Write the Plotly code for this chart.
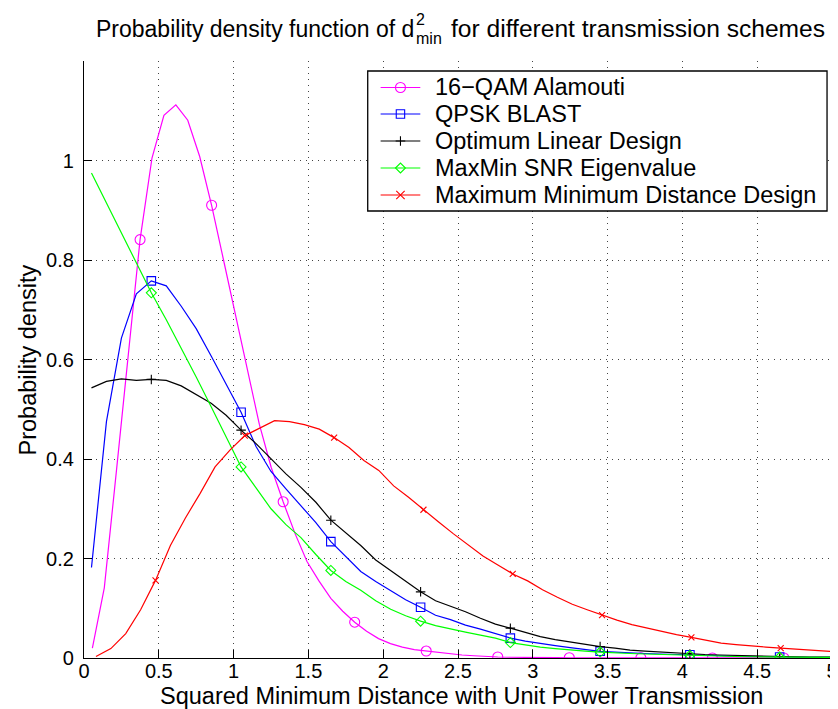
import numpy as np
import plotly.graph_objects as go

# ---------------- data ----------------
names = ["16\u2212QAM Alamouti", "QPSK BLAST", "Optimum Linear Design",
         "MaxMin SNR Eigenvalue", "Maximum Minimum Distance Design"]

# sample grids (histogram bin centres)
x_qam = np.round(0.056 + 0.0797 * np.arange(63), 4)
x_grid = np.round(0.05 + 0.1 * np.arange(51), 4)
x_mmd = np.round(0.08 + 0.0995 * np.arange(51), 4)

y_qam = [0.020, 0.141, 0.372, 0.610, 0.841, 1.005, 1.091, 1.112, 1.081, 1.008,
         0.910, 0.800, 0.690, 0.578, 0.470, 0.383, 0.314, 0.250, 0.194, 0.155,
         0.120, 0.094, 0.072, 0.054, 0.039, 0.029, 0.022, 0.017, 0.014, 0.011,
         0.008, 0.006, 0.0045, 0.003, 0.002, 0.0015, 0.001, 0.001, 0.0008, 0.0006,
         0.0005, 0.0004, 0.0003, 0.0003, 0.0002, 0.0002, 0.0002, 0.0001, 0.0001, 0.0001,
         0.0001, 0.0001, 0.0001, 0.0, 0.0, 0.0, 0.0, 0.0, 0.0, 0.0,
         0.0, 0.0, 0.0]

y_blast = [0.182, 0.475, 0.643, 0.732, 0.758, 0.748, 0.707, 0.662, 0.607, 0.551,
           0.494, 0.425, 0.375, 0.340, 0.305, 0.272, 0.234, 0.203, 0.174, 0.154,
           0.136, 0.117, 0.102, 0.086, 0.077, 0.066, 0.058, 0.049, 0.040, 0.034,
           0.029, 0.025, 0.021, 0.017, 0.0135, 0.012, 0.010, 0.009, 0.008, 0.007,
           0.0065, 0.006, 0.005, 0.004, 0.003, 0.003, 0.002, 0.002, 0.0015, 0.001,
           0.001]

y_old = [0.543, 0.556, 0.561, 0.558, 0.560, 0.558, 0.547, 0.529, 0.512, 0.488,
         0.458, 0.431, 0.400, 0.370, 0.343, 0.313, 0.277, 0.252, 0.226, 0.197,
         0.176, 0.155, 0.133, 0.115, 0.104, 0.093, 0.080, 0.068, 0.060, 0.051,
         0.043, 0.037, 0.032, 0.027, 0.023, 0.020, 0.016, 0.014, 0.012, 0.010,
         0.008, 0.007, 0.006, 0.005, 0.004, 0.0035, 0.003, 0.0025, 0.002, 0.002,
         0.0015]

y_snr = [0.975, 0.915, 0.855, 0.794, 0.734, 0.680, 0.624, 0.565, 0.505, 0.445,
         0.384, 0.342, 0.300, 0.268, 0.242, 0.208, 0.176, 0.154, 0.136, 0.115,
         0.098, 0.085, 0.074, 0.065, 0.058, 0.052, 0.046, 0.040, 0.031, 0.026,
         0.022, 0.019, 0.016, 0.014, 0.012, 0.010, 0.009, 0.008, 0.007, 0.006,
         0.005, 0.004, 0.0035, 0.003, 0.0025, 0.002, 0.0015, 0.001, 0.001, 0.001,
         0.001]

y_mmd = [0.003, 0.019, 0.049, 0.097, 0.156, 0.226, 0.281, 0.331, 0.384, 0.418,
         0.447, 0.462, 0.477, 0.475, 0.469, 0.460, 0.443, 0.423, 0.397, 0.377,
         0.346, 0.323, 0.298, 0.274, 0.250, 0.228, 0.205, 0.187, 0.169, 0.155,
         0.137, 0.122, 0.108, 0.097, 0.086, 0.076, 0.067, 0.060, 0.053, 0.047,
         0.0415, 0.035, 0.030, 0.027, 0.024, 0.022, 0.020, 0.018, 0.016, 0.014,
         0.012]

x_ticks = [0, 0.5, 1, 1.5, 2, 2.5, 3, 3.5, 4, 4.5, 5]
x_ticklabels = ["0", "0.5", "1", "1.5", "2", "2.5", "3", "3.5", "4", "4.5", "5"]
y_ticks = [0, 0.2, 0.4, 0.6, 0.8, 1.0]
y_ticklabels = ["0", "0.2", "0.4", "0.6", "0.8", "1"]

series_x = [x_qam, x_grid, x_grid, x_grid, x_mmd]
series_y = [y_qam, y_blast, y_old, y_snr, y_mmd]

# ---------------- styles ----------------
colors = ["#ff00ff", "#0000ff", "#000000", "#00ff00", "#ff0000"]
symbols = ["circle-open", "square-open", "cross-thin-open", "diamond-open", "x-thin-open"]
msizes = [10, 8.5, 6.8, 7.7, 6.0]
MARK_START, MARK_STEP = 4, 6
FONT = "Liberation Sans, Arial, Helvetica, sans-serif"

W, H = 838, 709
L, R, T, B = 76, 8, 53, 59
PW, PH = W - L - R, H - T - B


def px(xp):
    return (xp - L) / PW


def py(yp):
    return (H - B - yp) / PH


fig = go.Figure()
for xs, ys, c, s, ms, n in zip(series_x, series_y, colors, symbols, msizes, names):
    xs = list(xs)
    fig.add_trace(go.Scatter(x=xs, y=ys, mode="lines", line=dict(color=c, width=1.2),
                             name=n, showlegend=False, hoverinfo="skip"))
    fig.add_trace(go.Scatter(x=xs[MARK_START::MARK_STEP], y=ys[MARK_START::MARK_STEP],
                             mode="markers", name=n, showlegend=False,
                             marker=dict(symbol=s, size=ms, color=c,
                                         line=dict(color=c, width=1.1))))

shapes = []
annotations = []

# ---- legend drawn by hand (box, line samples, marker glyphs, labels) ----
LEG_X0, LEG_X1, LEG_Y0, LEG_Y1 = 362, 825, 63, 203
shapes.append(dict(type="rect", xref="paper", yref="paper",
                   x0=px(LEG_X0), x1=px(LEG_X1), y0=py(LEG_Y0), y1=py(LEG_Y1),
                   line=dict(color="black", width=1.3), fillcolor="white", layer="above"))
row_y = [79.5, 106, 133, 160, 187]
glyph_paths = {
    "circle-open": None,
    "square-open": "M-4.2,-4.2H4.2V4.2H-4.2Z",
    "cross-thin-open": "M-4.8,0H4.8M0,-4.8V4.8",
    "diamond-open": "M-5,0L0,5L5,0L0,-5Z",
    "x-thin-open": "M-4.2,-4.2L4.2,4.2M-4.2,4.2L4.2,-4.2",
}
for ry, c, s, n in zip(row_y, colors, symbols, names):
    shapes.append(dict(type="line", xref="paper", yref="paper",
                       x0=px(375), x1=px(415), y0=py(ry), y1=py(ry),
                       line=dict(color=c, width=1.2)))
    common = dict(xref="paper", yref="paper", xsizemode="pixel", ysizemode="pixel",
                  xanchor=px(395), yanchor=py(ry), line=dict(color=c, width=1.1))
    if glyph_paths[s] is None:
        shapes.append(dict(type="circle", x0=-5, x1=5, y0=-5, y1=5, **common))
    else:
        shapes.append(dict(type="path", path=glyph_paths[s], **common))
    annotations.append(dict(xref="paper", yref="paper", x=px(428), y=py(ry),
                            xanchor="left", yanchor="middle", text=n, showarrow=False,
                            font=dict(family=FONT, size=23.5, color="black")))

# ---- title with stacked super/subscript ----
TITLE_Y = 21
annotations.append(dict(xref="paper", yref="paper", x=px(411), y=py(TITLE_Y),
                        xanchor="right", yanchor="middle", showarrow=False,
                        text="Probability density function of d",
                        font=dict(family=FONT, size=23, color="black")))
annotations.append(dict(xref="paper", yref="paper", x=px(409), y=py(12),
                        xanchor="left", yanchor="middle", showarrow=False, text="2",
                        font=dict(family=FONT, size=16, color="black")))
annotations.append(dict(xref="paper", yref="paper", x=px(409), y=py(30),
                        xanchor="left", yanchor="middle", showarrow=False, text="min",
                        font=dict(family=FONT, size=16, color="black")))
annotations.append(dict(xref="paper", yref="paper", x=px(444), y=py(TITLE_Y),
                        xanchor="left", yanchor="middle", showarrow=False,
                        text="for different transmission schemes",
                        font=dict(family=FONT, size=24.6, color="black")))

# ---- axis titles ----
annotations.append(dict(xref="paper", yref="paper", x=px(457), y=py(688),
                        xanchor="center", yanchor="middle", showarrow=False,
                        text="Squared Minimum Distance with Unit Power Transmission",
                        font=dict(family=FONT, size=23.5, color="black")))
annotations.append(dict(xref="paper", yref="paper", x=px(20), y=py(352),
                        xanchor="center", yanchor="middle", showarrow=False, textangle=-90,
                        text="Probability density",
                        font=dict(family=FONT, size=23.5, color="black")))

grid = dict(showgrid=True, gridcolor="#444444", gridwidth=1, griddash="1px,5px")
fig.update_layout(
    width=W, height=H,
    margin=dict(l=L, r=R, t=T, b=B, pad=0),
    paper_bgcolor="white", plot_bgcolor="white",
    showlegend=False,
    font=dict(family=FONT, size=20, color="black"),
    xaxis=dict(range=[0, 5], tickvals=x_ticks, ticktext=x_ticklabels,
               ticks="inside", ticklen=8, tickwidth=1, tickcolor="black",
               showline=True, linecolor="black", linewidth=1.3, zeroline=False,
               ticklabeloverflow="allow", ticklabelstandoff=-5,
               tickfont=dict(family=FONT, size=20), **grid),
    yaxis=dict(range=[0, 1.2], tickvals=y_ticks, ticktext=y_ticklabels,
               ticks="inside", ticklen=8, tickwidth=1, tickcolor="black",
               showline=True, linecolor="black", linewidth=1.3, zeroline=False,
               ticklabelstandoff=5,
               tickfont=dict(family=FONT, size=20), **grid),
    shapes=shapes,
    annotations=annotations,
)

fig.write_html("out.html")
